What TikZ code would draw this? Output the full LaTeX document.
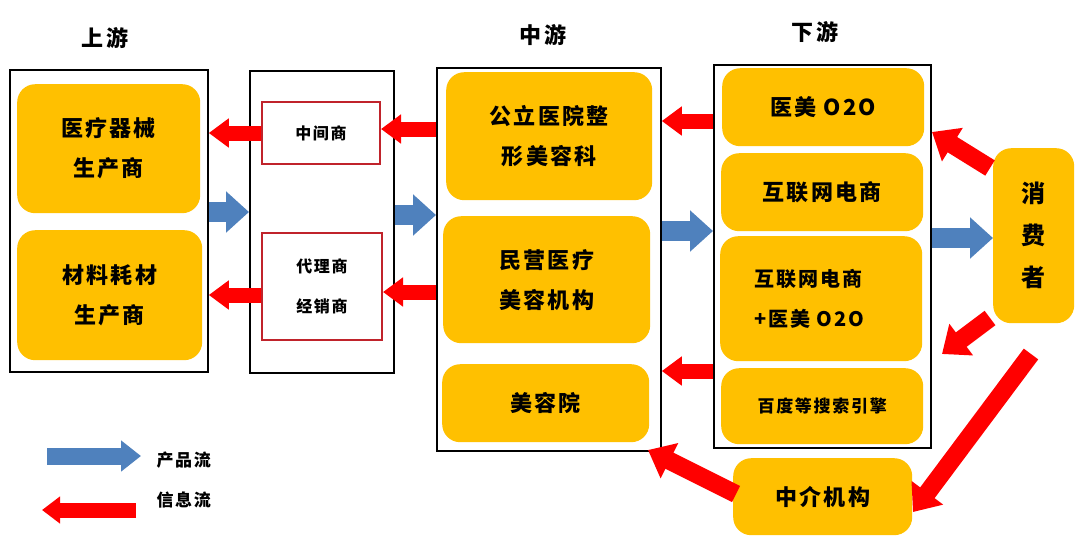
\documentclass[tikz,border=0pt]{standalone}
\usepackage{fontspec}
\setmainfont{Noto Sans CJK SC}[LetterSpace=10]
\usetikzlibrary{arrows.meta}
\definecolor{gold}{HTML}{FFC000}
\definecolor{flowblue}{HTML}{4F81BD}
\definecolor{flowred}{HTML}{FF0000}
\definecolor{boxred}{HTML}{C0232B}
\begin{document}
\begin{tikzpicture}[x=1pt,y=-1pt,
  frame/.style={draw=black, line width=1.8pt, anchor=north west, inner sep=0pt},
  ybox/.style={fill=gold, rounded corners=18pt, anchor=north west, inner sep=0pt, align=center, font=\fontsize{22}{40}\selectfont\bfseries},
  rbox/.style={draw=boxred, line width=2pt, fill=white, anchor=north west, inner sep=0pt, align=center, font=\fontsize{16}{40}\selectfont\bfseries},
  ttl/.style={font=\fontsize{22}{26}\selectfont\bfseries},
  leg/.style={anchor=west, font=\fontsize{17}{20}\selectfont\bfseries},
  bluearr/.style={draw=flowblue, line width=20pt, -{Triangle[length=23pt 0, width=40pt 0]}},
  redarr/.style={draw=flowred, line width=15pt, -{Triangle[length=20pt 0, width=28pt 0]}},
  diagarr/.style={draw=flowred, line width=18pt, -{Triangle[length=24pt 0, width=38pt 0]}},
  legblue/.style={draw=flowblue, line width=17pt, -{Triangle[length=20pt 0, width=30pt 0]}},
  legred/.style={draw=flowred, line width=15pt, -{Triangle[length=18pt 0, width=26pt 0]}},
]
\path[use as bounding box, fill=white] (0,0) rectangle (1080,542);

% titles
\node[ttl] (t1) at (105,38) {上游};
\node[ttl] (t2) at (543,35) {中游};
\node[ttl] (t3) at (815,32) {下游};

% frames
\node[frame, minimum width=198pt, minimum height=302pt] (b1) at (9,69) {};
\node[frame, minimum width=144pt, minimum height=302pt] (b2) at (249,70) {};
\node[frame, minimum width=224pt, minimum height=383pt] (b3) at (436,67) {};
\node[frame, minimum width=217pt, minimum height=383pt] (b4) at (713,64) {};

% upstream
\node[ybox, minimum width=183pt, minimum height=129pt] (y1) at (17,84) {医疗器械\\生产商};
\node[ybox, minimum width=185pt, minimum height=130pt] (y2) at (17,230) {材料耗材\\生产商};

% intermediaries
\node[rbox, minimum width=118pt, minimum height=62pt] (zj) at (261,101) {中间商};
\node[rbox, minimum width=120pt, minimum height=107pt] (dl) at (261,232) {代理商\\经销商};

% midstream
\node[ybox, minimum width=206pt, minimum height=128pt] (y3) at (446,72) {公立医院整\\形美容科};
\node[ybox, minimum width=207pt, minimum height=127pt] (y4) at (443,216) {民营医疗\\美容机构};
\node[ybox, minimum width=207pt, minimum height=78pt] (y5) at (442,364) {美容院};

% downstream
\node[ybox, minimum width=202pt, minimum height=78pt] (y6) at (722,68) {医美 O2O};
\node[ybox, minimum width=202pt, minimum height=78pt] (y7) at (721,153) {互联网电商};
\node[ybox, minimum width=202pt, minimum height=125pt, align=left, font=\fontsize{20}{40}\selectfont\bfseries] (y8) at (720,236) {互联网电商\\+医美 O2O\hspace*{24pt}};
\node[ybox, minimum width=202pt, minimum height=76pt, font=\fontsize{17}{20}\selectfont\bfseries] (y9) at (721,368) {百度等搜索引擎};

% consumer and agency
\node[ybox, minimum width=81pt, minimum height=175pt, font=\fontsize{24}{42}\selectfont\bfseries] (xf) at (993,148) {消\\费\\者};
\node[ybox, minimum width=179pt, minimum height=77pt] (zjjg) at (733,458) {中介机构};

% horizontal flows
\draw[redarr] (zj.west) -- (b1.east |- zj.west);
\draw[redarr] (dl.west |- 0,295) -- (b1.east |- 0,295);
\draw[bluearr] (b1.east |- 0,212) -- (b2.west |- 0,212);
\draw[redarr] (b3.west |- 0,129) -- (zj.east |- 0,129);
\draw[redarr] (b3.west |- 0,292) -- (dl.east |- 0,292);
\draw[bluearr] (b2.east |- 0,215) -- (b3.west |- 0,215);
\draw[redarr] (b4.west |- 0,121) -- (b3.east |- 0,121);
\draw[redarr] (b4.west |- 0,371) -- (b3.east |- 0,371);
\draw[bluearr] (b3.east |- 0,231) -- (b4.west |- 0,231);
\draw[bluearr] (b4.east |- 0,238) -- (xf.west |- 0,238);

% diagonal flows
\coordinate (c1s) at (990,168);
\coordinate (c1e) at (932,132);
\coordinate (c2s) at (990,318);
\coordinate (c2e) at (942,354);
\coordinate (c3s) at (1031,354);
\coordinate (c3e) at (913,512);
\coordinate (c4s) at (736,494);
\coordinate (c4e) at (648,450);
\draw[diagarr] (c1s) -- (c1e);
\draw[diagarr] (c2s) -- (c2e);
\draw[diagarr] (c3s) -- (c3e);
\draw[diagarr] (c4s) -- (c4e);

% legend
\coordinate (lb1) at (47,456);
\coordinate (lb2) at (141,456);
\coordinate (lr1) at (136,510);
\coordinate (lr2) at (42,510);
\draw[legblue] (lb1) -- (lb2);
\draw[legred] (lr1) -- (lr2);
\node[leg] (lp) at (153,460) {产品流};
\node[leg] (li) at (153,500) {信息流};
\end{tikzpicture}
\end{document}
